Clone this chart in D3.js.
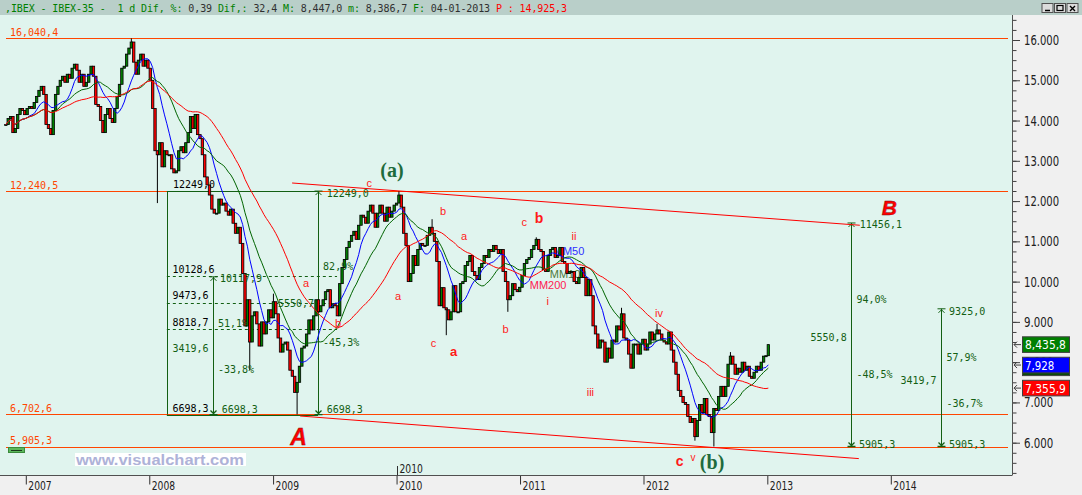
<!DOCTYPE html>
<html>
<head>
<meta charset="utf-8">
<script src="https://d3js.org/d3.v7.min.js"></script>
<style>
  body { margin: 0; background: #f0f0f0; }
  svg { display: block; }
  text { white-space: pre; }
</style>
</head>
<body>
<div id="chart"></div>
<script>
// weekly closes (Fridays), 2006-11-03 .. 2013-01-04
const closes = [
  // 2006 nov, dec
  13900, 14050, 14100, 13700,
  13800, 14150, 14300, 14250, 14146,
  // 2007
  14300, 14350, 14300, 14450,
  14600, 14750, 14850, 14650,
  13900, 13800, 13650, 14250, 14650,
  14850, 15000, 15100, 14950,
  15150, 15050, 15300, 15400,
  15250, 14950, 15150, 14850, 14950,
  15150, 15350, 15100, 14400,
  14350, 14000, 13700, 14150, 14300,
  14050, 13950, 14300, 14600,
  14900, 15300, 15350, 15650,
  15800, 15950, 15450, 15150, 15500,
  15650, 15350, 15500, 15300,
  // 2008
  15000, 14300, 13250, 13150,
  13450, 12850, 13250, 13150, 13150,
  12800, 12700, 12750, 13250,
  13350, 13200, 13450, 13700,
  14100, 13800, 14150, 13650, 13550,
  13150, 12600, 12400, 12150,
  11800, 11700, 11700, 12050,
  11900, 11950, 11750, 11650, 11800,
  11450, 11200, 11350, 10950,
  10200, 8900, 9550, 8500, 9150,
  9250, 8950, 8400, 9000,
  8700, 9000, 9300, 9100,
  // 2009
  9500, 9200, 8600, 8250, 8450,
  8500, 8300, 7800, 7650,
  7250, 7500, 7900, 8350,
  8400, 8700, 9050, 8800,
  9150, 9550, 9250, 9400, 9550,
  9750, 9800, 9350, 9450,
  9400, 9150, 9950, 10350, 10550,
  10850, 11000, 11150, 11250,
  11050, 11400, 11650, 11600,
  11450, 11750, 11900, 11700, 11350,
  11700, 11900, 11700, 11500,
  11850, 11600, 11750, 11900,
  // 2010
  11950, 12150, 11850, 11200, 10900,
  10000, 10200, 10650, 10400,
  10800, 10950, 10900, 10900,
  11150, 11350, 11200, 11000, 10500,
  9400, 9850, 9350, 9300,
  9050, 9250, 9900, 9250,
  9250, 9950, 10000, 10400, 10500,
  10650, 10250, 10150, 10050,
  10350, 10450, 10650, 10600,
  10800, 10750, 10900, 10800, 10700,
  10800, 10250, 10000, 9550,
  9650, 9950, 9800, 9750, 9860,
  // 2011
  10150, 10450, 10550, 10600,
  10800, 10900, 11050, 10800,
  10750, 10300, 10250, 10650,
  10800, 10850, 10600, 10650, 10850,
  10500, 10450, 10200, 10250,
  10250, 10000, 9950, 10100,
  10350, 10100, 9650, 10050, 9650,
  8900, 8700, 8350, 8550,
  8500, 8000, 8350, 8100, 8550,
  8500, 8900, 8800, 9200,
  8600, 8550, 8200, 7850,
  8450, 8450, 8200, 8450, 8570,
  // 2012
  8300, 8450, 8750, 8550,
  8700, 8800, 8700, 8550,
  8500, 8450, 8750, 8300, 8000,
  7700, 7300, 7150, 7000,
  6950, 6650, 6500, 6600,
  6150, 6550, 6950, 6750, 7100,
  6700, 6650, 6250, 6850,
  6800, 7150, 7400, 7150, 7400,
  7950, 8150, 7950, 7700,
  7850, 7750, 8000, 7800,
  7900, 7650, 7600, 7750, 7900,
  7800, 8000, 8150, 8160,
  // 2013
  8435.8
];

// notable wick extremes [week (friday), price]
const wicks = [
  ["2007-11-09", 16040.4], ["2008-01-25", 11950], ["2008-10-24", 7800],
  ["2009-01-02", 9700], ["2009-03-13", 6702.6], ["2010-01-08", 12249.0],
  ["2010-04-16", 11550], ["2010-05-28", 8670], ["2010-11-26", 9250],
  ["2011-02-18", 11100], ["2011-10-28", 9350], ["2012-02-10", 8950],
  ["2012-06-01", 6050], ["2012-07-27", 5905.3], ["2012-09-14", 8250]
];

const levels = [16040.4, 12240.5, 6702.6, 5905.3];
const levelLabels = ["16,040,4", "12,240,5", "6,702,6", "5,905,3"];
const fiboLevels = [10128.6, 9473.6, 8818.7];
const yTickValues = [6000, 7000, 8000, 9000, 10000, 11000, 12000, 13000, 14000, 15000, 16000];
const yTickLabels = ["6.000", "7.000", "8.000", "9.000", "10.000", "11.000", "12.000", "13.000", "14.000", "15.000", "16.000"];
const yearTicks = [2007, 2008, 2009, 2010, 2011, 2012, 2013, 2014];

// vertical measuring bars [year, top, bottom, arrows]
const measureBars = [
  [2008.142, 12249.0, 6698.3, false],
  [2008.514, 10117.9, 6698.3, true],
  [2009.364, 12249.0, 6698.3, true],
  [2013.676, 11456.1, 5905.3, true],
  [2014.407, 9325.0, 5905.3, true]
];
const measureSpans = [[2008.142, 2009.364, 12249.0], [2008.142, 2009.364, 6698.3]];
const fiboSpan = [2008.142, 2009.518];

// trend channel [year, price] pairs
const channelUpper = [[2009.154, 12449], [2013.749, 11400]];
const channelLower = [[2009.219, 6663], [2013.741, 5605]];

// text annotations [year, price, text]
const blackNotes = [
  [2008.191, 12325, "12249,0"], [2008.187, 10207, "10128,6"], [2008.187, 9561, "9473,6"],
  [2008.187, 8906, "8818,7"], [2008.187, 6770, "6698,3"]
];
const greenNotes = [
  [2008.187, 8260, "3419,6"], [2008.571, 9998, "10117,9"], [2008.555, 8873, "51,1%"],
  [2008.555, 7731, "-33,8%"], [2008.585, 6745, "6698,3"], [2009.040, 9377, "5550,7"],
  [2009.405, 10289, "82,9%"], [2009.405, 8401, "-45,3%"], [2009.434, 12109, "12249,0"],
  [2009.434, 6730, "6698,3"], [2013.749, 11324, "11456,1"], [2013.722, 9477, "94,0%"],
  [2013.350, 8533, "5550,8"], [2013.722, 7599, "-48,5%"], [2013.743, 5876, "5905,3"],
  [2014.472, 9171, "9325,0"], [2014.451, 8029, "57,9%"], [2014.078, 7458, "3419,7"],
  [2014.451, 6894, "-36,7%"], [2014.472, 5876, "5905,3"]
];
// wave counts [year, price, text, size, bold]
const waveNotes = [
  [2009.757, 12357, "c", 11, false], [2009.243, 9866, "a", 11, false], [2009.502, 8873, "b", 11, false],
  [2009.987, 9544, "a", 11, false], [2010.351, 11654, "b", 11, false], [2010.521, 11034, "a", 11, false],
  [2010.276, 8384, "c", 11, false], [2010.432, 8153, "a", 13, true], [2010.858, 8717, "b", 11, false],
  [2011.012, 11381, "c", 11, false], [2011.119, 11448, "b", 14, true], [2011.417, 11034, "ii", 11, false],
  [2011.214, 9420, "i", 11, false], [2011.540, 7160, "iii", 11, false], [2012.093, 9129, "iv", 11, false],
  [2012.260, 5411, "c", 14, true], [2012.379, 5546, "v", 10, false]
];
const degreeNotes = [[2009.868, 12598, "(a)"], [2012.455, 5347, "(b)"]];
const targetNotes = [[2009.138, 5943, "A", 23], [2013.927, 11654, "B", 21]];
const maNotes = [
  [2011.273, 10661, "MM50", "#3030ff"], [2011.241, 10091, "MM100", "#4d7a3a"], [2011.079, 9810, "MM200", "#ff2050"]
];
const priceTags = [
  [7860, "", "#0a4a0a"], [8435.8, "8,435,8", "#008000"], [7928, "7,928", "#0000ff"], [7355.9, "7,355,9", "#ff0000"]
];
const titleParts = [
  [",IBEX - IBEX-35 -  1 d Dif, %: ", "#008000"], ["0,39 ", "#303030"], ["Dif,: ", "#008000"],
  ["32,4 ", "#303030"], ["M: ", "#008000"], ["8,447,0 ", "#303030"], ["m: ", "#008000"],
  ["8,386,7 ", "#303030"], ["F: ", "#008000"], ["04-01-2013 ", "#303030"], ["P : 14,925,3", "#ff0000"]
];

const W = 1082, H = 495;
const PLOT_R = 1012, PLOT_T = 15, PLOT_B = 475.5;
const MONO = "'DejaVu Sans Mono', monospace";
const NARROW = "'Liberation Sans Narrow', 'DejaVu Sans Condensed', sans-serif";
const SANS = "'Liberation Sans', Arial, sans-serif";
const GREEN = "#135f13";
const CHAR_W = 5.85; // advance of the chart's narrow bitmap font

const yr = f => {
  const y0 = Math.floor(f), a = new Date(y0, 0, 1), b = new Date(y0 + 1, 0, 1);
  return new Date(+a + (f - y0) * (b - a));
};
const parse = d3.timeParse("%Y-%m-%d");

const x = d3.scaleTime().domain([new Date(2007, 0, 1), new Date(2014, 0, 1)]).range([25.8, 890.8]);
const y = d3.scaleLinear().domain([6000, 16000]).range([442.7, 40]);

// candles: open = previous close
const wickMap = new Map(wicks.map(w => [+parse(w[0]), w[1]]));
const weeks = closes.map((c, i) => {
  const date = new Date(2006, 10, 3 + 7 * i);
  const open = i ? closes[i - 1] : c;
  const w = wickMap.get(+date);
  let high = Math.max(open, c), low = Math.min(open, c);
  if (w !== undefined) { high = Math.max(high, w); low = Math.min(low, w); }
  return { date, open, close: c, high, low };
});

function sma(n) {
  return weeks.map((d, i) => ({ date: d.date, v: d3.mean(closes.slice(Math.max(0, i - n + 1), i + 1)) }));
}

// narrow font: squeeze each label to the bitmap font's width
function narrow(sel, size) {
  sel.attr("font-family", NARROW).attr("font-size", size)
    .attr("textLength", function () { return this.textContent.length * CHAR_W; })
    .attr("lengthAdjust", "spacingAndGlyphs");
}

const svg = d3.select("#chart").append("svg").attr("width", W).attr("height", H);

svg.append("rect").attr("width", W).attr("height", H).attr("fill", "#f0f0f0");
svg.append("rect").attr("width", W).attr("height", PLOT_T).attr("fill", "#b9cfc9");
svg.append("rect").attr("x", 0).attr("y", PLOT_T).attr("width", PLOT_R).attr("height", PLOT_B - PLOT_T).attr("fill", "#e0f4ee");

// title
const title = svg.append("text").attr("x", 5).attr("y", 12).attr("font-family", MONO).attr("font-size", 10)
  .attr("textLength", 562).attr("lengthAdjust", "spacing");
titleParts.forEach(p => title.append("tspan").attr("fill", p[1]).text(p[0]));

// window buttons
const btn = svg.append("g");
[1042, 1054.5, 1067].forEach((bx, i) => {
  btn.append("rect").attr("x", bx).attr("y", 3.5).attr("width", 11).attr("height", 9)
    .attr("fill", "#dcdcdc").attr("stroke", "#505050").attr("stroke-width", 1);
  if (i === 0) btn.append("path").attr("d", `M${bx + 3},${10.5}H${bx + 8}`).attr("stroke", "#000").attr("stroke-width", 1.5);
  if (i === 1) btn.append("rect").attr("x", bx + 2.5).attr("y", 5.5).attr("width", 6).attr("height", 5).attr("fill", "none").attr("stroke", "#000").attr("stroke-width", 1.2);
  if (i === 2) btn.append("path").attr("d", `M${bx + 3},6L${bx + 8},11M${bx + 8},6L${bx + 3},11`).attr("stroke", "#000").attr("stroke-width", 1.4);
});

const plot = svg.append("g");
plot.append("clipPath").attr("id", "clip").append("rect").attr("x", 0).attr("y", PLOT_T).attr("width", PLOT_R).attr("height", PLOT_B - PLOT_T);

// horizontal levels
levels.forEach((lv, i) => {
  plot.append("line").attr("x1", 6).attr("x2", 1008).attr("y1", Math.round(y(lv)) + 0.5).attr("y2", Math.round(y(lv)) + 0.5)
    .attr("stroke", "#ff4500").attr("stroke-width", 1);
  plot.append("text").attr("x", 10).attr("y", y(lv) - 2.5).attr("font-family", MONO).attr("font-size", 10)
    .attr("fill", "#ff4500").text(levelLabels[i]);
});

// measurement structures
const meas = plot.append("g").attr("stroke", GREEN).attr("fill", "none").attr("stroke-width", 1);
fiboLevels.forEach(lv => {
  meas.append("line").attr("x1", x(yr(fiboSpan[0]))).attr("x2", x(yr(fiboSpan[1])))
    .attr("y1", Math.round(y(lv)) + 0.5).attr("y2", Math.round(y(lv)) + 0.5).attr("stroke-dasharray", "3,3");
});
measureSpans.forEach(s => {
  meas.append("line").attr("x1", x(yr(s[0]))).attr("x2", x(yr(s[1])))
    .attr("y1", Math.round(y(s[2])) + 0.5).attr("y2", Math.round(y(s[2])) + 0.5);
});
measureBars.forEach(b => {
  const cx = Math.round(x(yr(b[0]))) + 0.5, ty = y(b[1]), by = y(b[2]);
  meas.append("line").attr("x1", cx).attr("x2", cx).attr("y1", ty).attr("y2", by);
  if (b[3]) {
    meas.append("path").attr("d", `M${cx - 4},${ty}H${cx + 4}M${cx - 3},${ty + 4}L${cx},${ty + 1}L${cx + 3},${ty + 4}`);
    meas.append("path").attr("d", `M${cx - 4},${by}H${cx + 4}M${cx - 3},${by - 4}L${cx},${by - 1}L${cx + 3},${by - 4}`).attr("stroke-width", 1.3);
  }
});

// moving average labels (drawn under the candles)
plot.selectAll(null).data(maNotes).join("text")
  .attr("x", d => x(yr(d[0]))).attr("y", d => y(d[1])).attr("fill", d => d[3])
  .attr("font-family", SANS).attr("font-size", 11).text(d => d[2]);

// candles
const cg = plot.append("g").attr("clip-path", "url(#clip)");
const bw = 2.4;
cg.selectAll(".wick").data(weeks).join("line")
  .attr("x1", d => x(d.date)).attr("x2", d => x(d.date))
  .attr("y1", d => y(d.high)).attr("y2", d => y(d.low))
  .attr("stroke", "#000").attr("stroke-width", 1);
cg.selectAll(".body").data(weeks).join("rect")
  .attr("x", d => x(d.date) - bw / 2)
  .attr("y", d => y(Math.max(d.open, d.close)))
  .attr("width", bw)
  .attr("height", d => Math.max(1, Math.abs(y(d.open) - y(d.close))))
  .attr("fill", d => d.close >= d.open ? "#008000" : "#ff0000")
  .attr("stroke", "#000").attr("stroke-width", 0.8);

// moving averages
const line = d3.line().x(d => x(d.date)).y(d => y(d.v));
[[10, "#0000ff"], [20, "#006400"], [40, "#ff0000"]].forEach(m => {
  cg.append("path").datum(sma(m[0])).attr("d", line).attr("fill", "none")
    .attr("stroke", m[1]).attr("stroke-width", 1);
});

// trend channel
[channelUpper, channelLower].forEach(c => {
  plot.append("line").attr("x1", x(yr(c[0][0]))).attr("y1", y(c[0][1]))
    .attr("x2", x(yr(c[1][0]))).attr("y2", y(c[1][1]))
    .attr("stroke", "#ff0000").attr("stroke-width", 1);
});

// text notes
plot.selectAll(null).data(blackNotes).join("text")
  .attr("x", d => x(yr(d[0]))).attr("y", d => y(d[1])).attr("fill", "#000")
  .attr("font-family", MONO).attr("font-size", 10).text(d => d[2]);
plot.selectAll(null).data(greenNotes).join("text")
  .attr("x", d => x(yr(d[0]))).attr("y", d => y(d[1])).attr("fill", GREEN)
  .attr("font-family", MONO).attr("font-size", 10).text(d => d[2]);
plot.selectAll(null).data(waveNotes).join("text")
  .attr("x", d => x(yr(d[0]))).attr("y", d => y(d[1])).attr("fill", "#ff1a1a")
  .attr("font-family", SANS).attr("font-size", d => d[3]).attr("font-weight", d => d[4] ? "bold" : "normal")
  .text(d => d[2]);
plot.selectAll(null).data(degreeNotes).join("text")
  .attr("x", d => x(yr(d[0]))).attr("y", d => y(d[1])).attr("fill", "#1e6b3c")
  .attr("font-family", "'Liberation Serif', serif").attr("font-weight", "bold").attr("font-size", 20)
  .text(d => d[2]);
plot.selectAll(null).data(targetNotes).join("text")
  .attr("x", d => x(yr(d[0]))).attr("y", d => y(d[1])).attr("fill", "#ff0000")
  .attr("stroke", "#7a1010").attr("stroke-width", 0.4)
  .attr("font-family", SANS).attr("font-weight", "bold").attr("font-style", "italic")
  .attr("font-size", d => d[3]).text(d => d[2]);

// watermark + small legend box
plot.append("rect").attr("x", 75).attr("y", 453).attr("width", 171).attr("height", 13).attr("fill", "#ffffff");
plot.append("text").attr("x", 76).attr("y", 465).attr("font-family", SANS).attr("font-weight", "bold")
  .attr("font-size", 15).attr("textLength", 168).attr("lengthAdjust", "spacingAndGlyphs")
  .attr("fill", "#aeb2d8").text("www.visualchart.com");
plot.append("rect").attr("x", 8.5).attr("y", 447.5).attr("width", 16).attr("height", 5).attr("fill", "#5cb85c").attr("stroke", "#3a8a3a");
plot.append("line").attr("x1", 11).attr("x2", 22).attr("y1", 450.5).attr("y2", 450.5).attr("stroke", "#1a3a1a");

// x axis
const xAxis = svg.append("g").attr("transform", `translate(0,${PLOT_B})`)
  .call(d3.axisBottom(x).tickValues(yearTicks.map(v => new Date(v, 0, 1))).tickSize(9).tickFormat(d3.timeFormat("%Y")));
xAxis.select(".domain").remove();
xAxis.selectAll(".tick line").attr("stroke", "#303030");
xAxis.selectAll(".tick text").attr("text-anchor", "start").attr("x", 2).attr("y", 14.5).attr("dy", null)
  .attr("fill", "#202020").call(narrow, 13);
svg.append("line").attr("x1", 0).attr("x2", PLOT_R).attr("y1", PLOT_B).attr("y2", PLOT_B).attr("stroke", "#505050");
// cursor year marker inside the plot
const x2010 = Math.round(x(new Date(2010, 0, 1))) + 0.5;
svg.append("line").attr("x1", x2010).attr("x2", x2010).attr("y1", 466).attr("y2", PLOT_B).attr("stroke", "#303030");
svg.append("text").attr("x", x2010 + 2).attr("y", 472.5).attr("fill", "#202020").text("2010").call(narrow, 13);

// y axis
const minorTicks = d3.range(5250, 16501, 250);
const yMinor = svg.append("g").attr("transform", `translate(${PLOT_R},0)`)
  .call(d3.axisRight(y).tickValues(minorTicks).tickSize(4.5).tickFormat(""));
yMinor.select(".domain").remove();
yMinor.selectAll(".tick line").attr("stroke", "#404040");
const yMajor = svg.append("g").attr("transform", `translate(${PLOT_R},0)`)
  .call(d3.axisRight(y).tickValues(yTickValues).tickSize(8).tickPadding(4)
    .tickFormat((d, i) => yTickLabels[i]));
yMajor.select(".domain").remove();
yMajor.selectAll(".tick line").attr("stroke", "#404040");
yMajor.selectAll(".tick text").attr("dy", "0.32em").attr("fill", "#202020").call(narrow, 14);
svg.append("line").attr("x1", PLOT_R + 0.5).attr("x2", PLOT_R + 0.5).attr("y1", PLOT_T).attr("y2", PLOT_B).attr("stroke", "#505050");

// price tags
const tags = svg.append("g");
priceTags.forEach(t => {
  const cy = y(t[0]);
  tags.append("rect").attr("x", 1022.5).attr("y", cy - 7.8).attr("width", 47).attr("height", 15.6)
    .attr("fill", t[2]).attr("stroke", "#404040").attr("stroke-width", 1);
  if (t[1]) {
    tags.append("text").attr("x", 1025).attr("y", cy + 4.5).attr("fill", "#ffffff").text(t[1]).call(narrow, 13);
    tags.append("path").attr("d", `M1021,${cy}H1014M1017,${cy - 3}L1014,${cy}L1017,${cy + 3}`)
      .attr("stroke", "#404040").attr("fill", "none");
  }
});
</script>
</body>
</html>
